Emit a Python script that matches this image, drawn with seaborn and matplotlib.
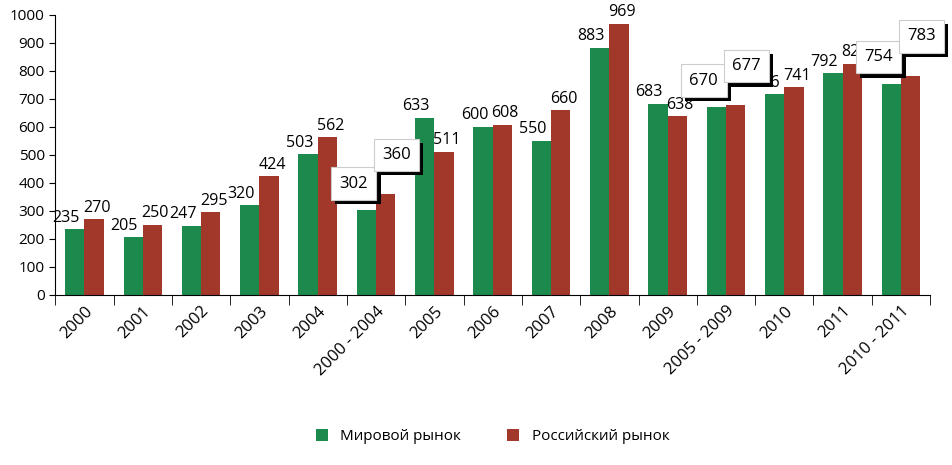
import pandas as pd
import matplotlib
matplotlib.use("Agg")
import matplotlib.pyplot as plt
import matplotlib.patheffects as pe
import seaborn as sns

years = ['2000', '2001', '2002', '2003', '2004', '2000 - 2004', '2005', '2006', '2007',
         '2008', '2009', '2005 - 2009', '2010', '2011', '2010 - 2011']
world = [235, 205, 247, 320, 503, 302, 633, 600, 550, 883, 683, 670, 716, 792, 754]
russia = [270, 250, 295, 424, 562, 360, 511, 608, 660, 969, 638, 677, 741, 826, 783]
boxed = ['2000 - 2004', '2005 - 2009', '2010 - 2011']
s_world, s_russia = 'Мировой рынок', 'Российский рынок'

df = pd.DataFrame({'year': years * 2,
                   'val': world + russia,
                   'market': [s_world] * len(years) + [s_russia] * len(years)})

plt.rcParams['font.family'] = 'Open Sans'
fig = plt.figure(figsize=(9.53, 4.65), dpi=100)
ax = fig.add_axes([0.058, 0.366, 0.918, 0.602])
sns.barplot(data=df, x='year', y='val', hue='market', order=years,
            hue_order=[s_world, s_russia], palette=['#1b8a4c', '#a1382a'],
            width=0.66, saturation=1, ax=ax)

ax.set_ylim(0, 1000)
ax.set_yticks(range(0, 1001, 100))
ax.set_xlim(-0.5, len(years) - 0.5)
ax.set_xlabel('')
ax.set_ylabel('')
ax.tick_params(axis='y', labelsize=11, length=4)
ax.tick_params(axis='x', length=0, labelsize=12, pad=6)
ax.set_xticks([i - 0.5 for i in range(len(years) + 1)], minor=True)
ax.tick_params(axis='x', which='minor', length=7)
plt.setp(ax.get_xticklabels(), rotation=45, ha='right', rotation_mode='anchor')
for s in ['top', 'right']:
    ax.spines[s].set_visible(False)

for j, vals in enumerate([world, russia]):
    for i, (y, v) in enumerate(zip(years, vals)):
        x = i + (-0.165 if j == 0 else 0.165)
        if y in boxed:
            t = ax.text(i + (-0.38 if j == 0 else 0.35), v + (95 if j == 0 else 140), str(v),
                        ha='center', va='center', fontsize=12, zorder=5,
                        bbox=dict(boxstyle='square,pad=0.5', fc='white', ec='#cccccc', lw=0.8))
            t.get_bbox_patch().set_path_effects([
                pe.SimplePatchShadow(offset=(3, -3), shadow_rgbFace='black', alpha=1), pe.Normal()])
        else:
            ax.text(x - (0.15 if j == 0 else -0.05), v + 12, str(v), ha='center', va='bottom',
                    fontsize=11.5)

ax.legend(loc='upper center', bbox_to_anchor=(0.5, -0.43), ncol=2, frameon=False,
          fontsize=11, handlelength=0.8, handleheight=0.8, columnspacing=3)
fig.savefig('out.png', dpi=100)
